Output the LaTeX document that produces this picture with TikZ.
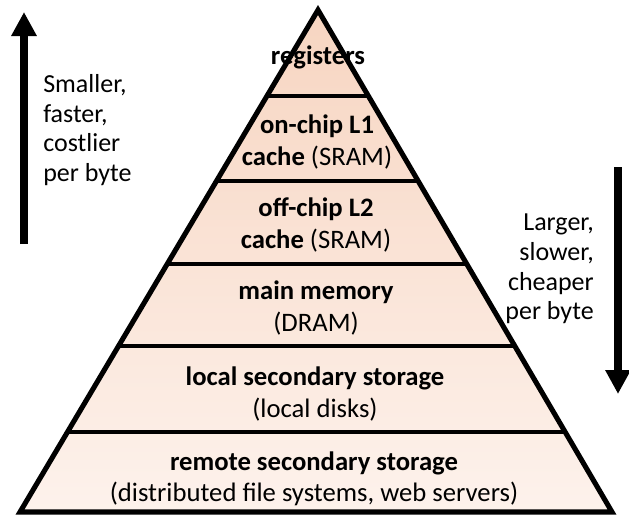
\documentclass[tikz,border=0pt]{standalone}
\usepackage{fontspec}
\setmainfont{Carlito}
\usetikzlibrary{calc,arrows.meta}

\definecolor{peachtop}{RGB}{247,213,193}
\definecolor{peachbot}{RGB}{253,242,236}

\begin{document}
\begin{tikzpicture}[
  x=0.75pt, y=-0.75pt,
  lvl/.style={align=center, font=\fontsize{20}{23.3}\selectfont, inner sep=0pt},
  note/.style={font=\fontsize{19.5}{22.3}\selectfont, inner sep=0pt},
  bigarrow/.style={line width=6pt, -{Triangle[width=18pt,length=18pt]}},
  >=latex
]
\useasboundingbox (0,0) rectangle (629,521);

% pyramid
\coordinate (apex) at (318,10);
\coordinate (bl) at (20,512);
\coordinate (br) at (612,512);
\shade[top color=peachtop, bottom color=peachbot] (apex)--(bl)--(br)--cycle;

% dividers between the levels
\foreach \t in {0.171,0.341,0.506,0.669,0.841}
  \draw[line width=3.2pt] ($(apex)!\t!(bl)$) -- ($(apex)!\t!(br)$);
\draw[line width=3.8pt, line join=miter] (apex)--(bl)--(br)--cycle;

% levels
\node[lvl] (reg)    at (318,57)  {\textbf{registers}};
\node[lvl] (l1)     at (317,142) {\textbf{on-chip L1}\\\textbf{cache} (SRAM)};
\node[lvl] (l2)     at (316,225) {\textbf{off-chip L2}\\\textbf{cache} (SRAM)};
\node[lvl] (mem)    at (316,308) {\textbf{main memory}\\(DRAM)};
\node[lvl] (local)  at (315,394) {\textbf{local secondary storage}\\(local disks)};
\node[lvl] (remote) at (314,479) {\textbf{remote secondary storage}\\(distributed file systems, web servers)};

% side arrows
\coordinate (upfoot) at (24,244);
\coordinate (uptip)  at (24,12);
\draw[bigarrow] (upfoot) -- (uptip);
\node[note, anchor=west, align=left] (small) at (43,130)
  {Smaller,\\faster,\\costlier\\per byte};

\coordinate (downtop) at (618,167);
\coordinate (downtip) at (618,394);
\draw[bigarrow] (downtop) -- (downtip);
\node[note, anchor=east, align=right] (large) at (594,269)
  {Larger,\\slower,\\cheaper\\per byte};
\end{tikzpicture}
\end{document}
